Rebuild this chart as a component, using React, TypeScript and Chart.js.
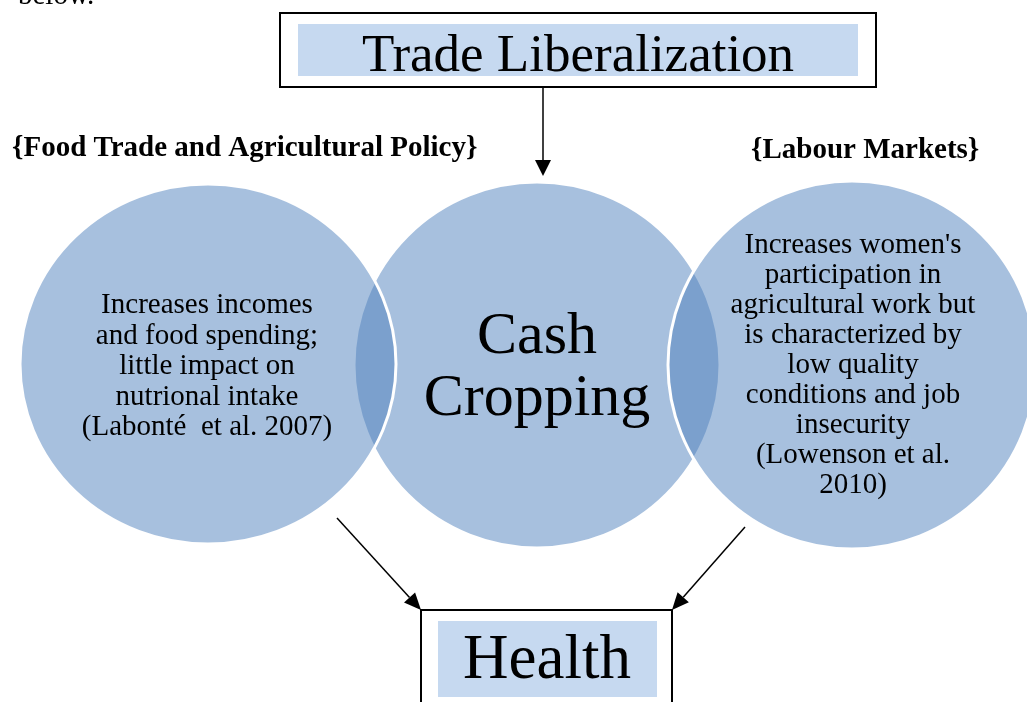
import React, { useEffect, useRef } from 'react';
import { Chart, registerables } from 'chart.js';

Chart.register(...registerables);

const W = 1027;
const H = 702;

// Venn circles, in drawing order: centre, left, right
const circleNames = ['Cash Cropping', 'Food Trade and Agricultural Policy', 'Labour Markets'];
const circleCx = [537, 208, 852];
const circleCy = [365, 364, 365];
const circleRx = [183, 188, 184];
const circleRy = [183, 180, 184];

const introText = 'below.';
const titleText = 'Trade Liberalization';
const outcomeText = 'Health';
const leftHeader = '{Food Trade and Agricultural Policy}';
const rightHeader = '{Labour Markets}';
const centerLines = ['Cash', 'Cropping'];
const leftLines = [
  'Increases incomes',
  'and food spending;',
  'little impact on',
  'nutrional intake',
  '(Labonté  et al. 2007)',
];
const rightLines = [
  "Increases women's",
  'participation in',
  'agricultural work but',
  'is characterized by',
  'low quality',
  'conditions and job',
  'insecurity',
  '(Lowenson et al.',
  '2010)',
];

const SERIF = '"Liberation Serif", "Times New Roman", Times, serif';
const CIRCLE_FILL = 'rgba(79,129,189,0.5)';
const BOX_FILL = '#C6D9F0';

function makeEllipse(rx: number, ry: number): HTMLCanvasElement {
  const pad = 3;
  const c = document.createElement('canvas');
  c.width = Math.round(2 * rx + 2 * pad);
  c.height = Math.round(2 * ry + 2 * pad);
  const g = c.getContext('2d')!;
  g.beginPath();
  g.ellipse(c.width / 2, c.height / 2, rx, ry, 0, 0, Math.PI * 2);
  g.fillStyle = CIRCLE_FILL;
  g.fill();
  g.lineWidth = 3;
  g.strokeStyle = '#ffffff';
  g.stroke();
  return c;
}

function arrow(ctx: CanvasRenderingContext2D, x1: number, y1: number, x2: number, y2: number, head = 16, half = 7.5) {
  const ang = Math.atan2(y2 - y1, x2 - x1);
  const bx = x2 - head * Math.cos(ang);
  const by = y2 - head * Math.sin(ang);
  ctx.beginPath();
  ctx.moveTo(x1, y1);
  ctx.lineTo(bx, by);
  ctx.stroke();
  ctx.beginPath();
  ctx.moveTo(x2, y2);
  ctx.lineTo(bx + half * Math.sin(ang), by - half * Math.cos(ang));
  ctx.lineTo(bx - half * Math.sin(ang), by + half * Math.cos(ang));
  ctx.closePath();
  ctx.fill();
}

const diagramPlugin = {
  id: 'diagram',
  afterDatasetsDraw(chart: any) {
    const ctx: CanvasRenderingContext2D = chart.ctx;
    const xs = chart.scales.x;
    const ys = chart.scales.y;
    const px = (v: number) => xs.getPixelForValue(v);
    const py = (v: number) => ys.getPixelForValue(v);
    ctx.save();
    ctx.fillStyle = '#000';
    ctx.strokeStyle = '#000';
    ctx.textBaseline = 'alphabetic';

    // intro text (cut off at top)
    ctx.font = `29px ${SERIF}`;
    ctx.textAlign = 'left';
    ctx.fillText(introText, px(18), py(4));

    // title box
    ctx.lineWidth = 2;
    ctx.strokeRect(px(280), py(13), px(876) - px(280), py(87) - py(13));
    ctx.fillStyle = BOX_FILL;
    ctx.fillRect(px(298), py(24), px(858) - px(298), py(76) - py(24));
    ctx.fillStyle = '#000';
    ctx.font = `53px ${SERIF}`;
    ctx.textAlign = 'center';
    ctx.fillText(titleText, px(578), py(71));

    // down arrow
    ctx.lineWidth = 1.5;
    arrow(ctx, px(543), py(88), px(543), py(176), 16, 8);

    // headers
    ctx.font = `bold 29px ${SERIF}`;
    ctx.textAlign = 'left';
    ctx.fillText(leftHeader, px(12), py(156));
    ctx.fillText(rightHeader, px(751), py(158));

    // circle texts
    ctx.textAlign = 'center';
    ctx.font = `60px ${SERIF}`;
    centerLines.forEach((t, i) => ctx.fillText(t, px(circleCx[0]), py(353 + i * 62)));
    ctx.font = `29px ${SERIF}`;
    leftLines.forEach((t, i) => ctx.fillText(t, px(207), py(313 + i * 30.5)));
    rightLines.forEach((t, i) => ctx.fillText(t, px(853), py(253 + i * 30)));

    // arrows to Health
    ctx.lineWidth = 1.5;
    arrow(ctx, px(337), py(518), px(421), py(610), 17, 7.5);
    arrow(ctx, px(745), py(527), px(672), py(610), 17, 7.5);

    // Health box
    ctx.lineWidth = 2;
    ctx.strokeRect(px(421), py(610), px(672) - px(421), py(720) - py(610));
    ctx.fillStyle = BOX_FILL;
    ctx.fillRect(px(438), py(621), px(657) - px(438), py(697) - py(621));
    ctx.fillStyle = '#000';
    ctx.font = `63px ${SERIF}`;
    ctx.textAlign = 'center';
    ctx.fillText(outcomeText, px(547), py(678));

    ctx.restore();
  },
};

export default function App() {
  const ref = useRef<HTMLCanvasElement | null>(null);
  useEffect(() => {
    document.body.style.margin = '0';
    document.body.style.background = '#ffffff';
    const canvas = ref.current;
    if (!canvas) return;
    const ellipses = circleRx.map((rx, i) => makeEllipse(rx, circleRy[i]));
    const chart = new Chart(canvas, {
      type: 'bubble',
      data: {
        labels: circleNames,
        datasets: [
          {
            label: 'Venn',
            data: circleCx.map((x, i) => ({ x, y: circleCy[i], r: circleRx[i] })),
            backgroundColor: CIRCLE_FILL,
            borderColor: '#ffffff',
            borderWidth: 3,
            clip: false,
            pointStyle: (c: any) => ellipses[c.dataIndex ?? 0],
          } as any,
        ],
      },
      options: {
        animation: false,
        responsive: false,
        events: [],
        layout: { padding: 0, autoPadding: false },
        plugins: {
          legend: { display: false },
          tooltip: { enabled: false },
          title: { display: false },
        },
        scales: {
          x: { type: 'linear', min: 0, max: W, display: false },
          y: { type: 'linear', min: 0, max: H, reverse: true, display: false },
        },
      } as any,
      plugins: [diagramPlugin],
    });
    return () => chart.destroy();
  }, []);
  return (
    <div style={{ width: W, height: H, background: '#fff' }}>
      <canvas ref={ref} width={W} height={H} style={{ display: 'block', width: W, height: H }} />
    </div>
  );
}
